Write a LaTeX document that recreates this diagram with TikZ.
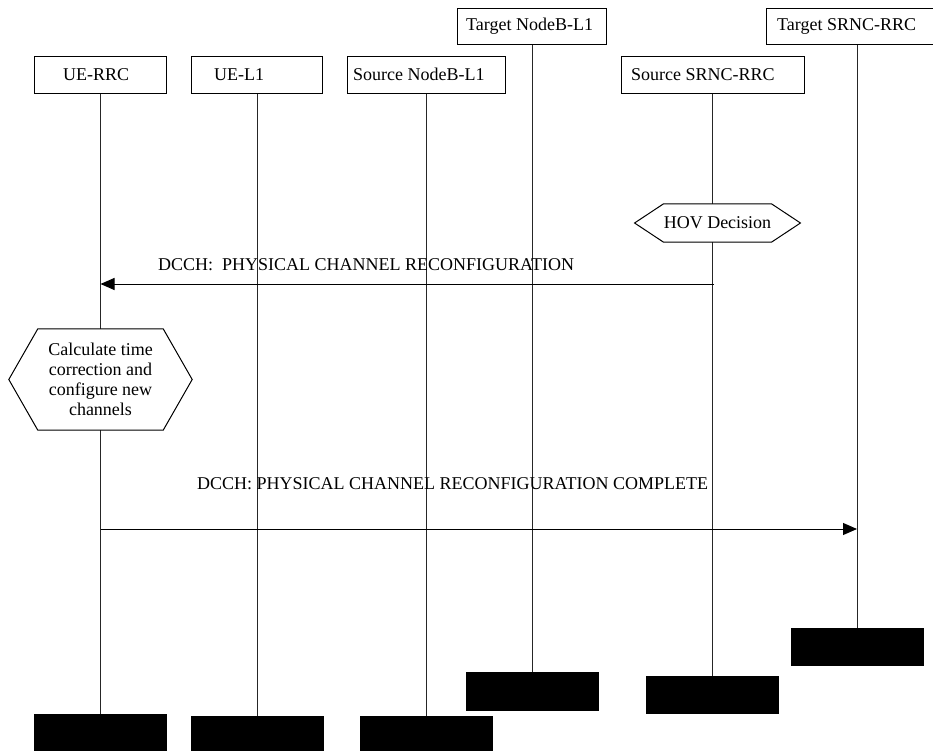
\documentclass[tikz,border=0pt]{standalone}
\usepackage{fontspec}
\setmainfont{Liberation Serif}
\usetikzlibrary{arrows.meta}
\pgfdeclarelayer{lanes}
\pgfdeclarelayer{outlines}
\pgfsetlayers{lanes,outlines,main}
\begin{document}
\begin{tikzpicture}[x=1pt,y=-1pt,
  font=\fontsize{18}{20}\selectfont,
  head/.style={draw, line width=1pt, minimum height=37pt, inner sep=0pt},
  endbox/.style={fill=black, draw=black, minimum width=132pt, minimum height=37pt, inner sep=0pt},
  lifeline/.style={line width=0.9pt, draw=black!85},
  txt/.style={anchor=base west, inner sep=0pt},
  msg/.style={line width=1pt, -{Triangle[length=14pt,width=12pt]}},
  hexbox/.style={inner sep=0pt, align=center},
  hexline/.style={draw, line width=1pt, fill=white}]
\useasboundingbox (0,0) rectangle (933,751);
\clip (0,0) rectangle (933,751);

% entity header boxes
\node[head, minimum width=132pt] (uerrc) at (100.5,75.5) {};
\node[head, minimum width=131pt] (uel1)  at (257,75.5) {};
\node[head, minimum width=158pt] (snb)   at (426.5,75.5) {};
\node[head, minimum width=149pt, minimum height=36pt] (tnb) at (532,26.5) {};
\node[head, minimum width=183pt] (ssrnc) at (712.5,75.5) {};
\node[head, minimum width=182pt, minimum height=36pt] (tsrnc) at (857,26.5) {};

% header texts
\node[txt] (tuerrc) at (63,81) {UE-RRC};
\node[txt] (tuel1)  at (214,81) {UE-L1};
\node[txt] (tsnb)   at (353,81) {Source NodeB-L1};
\node[txt] (ttnb)   at (466,31) {Target NodeB-L1};
\node[txt] (tssrnc) at (631,81) {Source SRNC-RRC};
\node[txt] (ttsrnc) at (777,31) {Target SRNC-RRC};

% lifeline terminators
\node[endbox, minimum height=38pt] (e1) at (100.5,733) {};
\node[endbox, minimum height=38pt] (e2) at (257,735) {};
\node[endbox, minimum height=38pt] (e3) at (426.5,735) {};
\node[endbox, minimum height=38pt] (e4) at (532,691) {};
\node[endbox] (e5) at (712.5,694.5) {};
\node[endbox] (e6) at (857,646.5) {};

% lifelines
\begin{pgfonlayer}{lanes}
\draw[lifeline] (uerrc.south) -- (e1.north);
\draw[lifeline] (uel1.south) -- (e2.north);
\draw[lifeline] (snb.south) -- (e3.north);
\draw[lifeline] (tnb.south) -- (e4.north);
\draw[lifeline] (ssrnc.south) -- (e5.north);
\draw[lifeline] (tsrnc.south) -- (e6.north);
\end{pgfonlayer}

% actions
\node[hexbox, minimum width=99pt, minimum height=38pt] (hov) at (717.5,223) {HOV Decision};
\node[hexbox, minimum width=125pt, minimum height=101pt] (calc) at (100.5,379.5)
  {Calculate time\\correction and\\configure new\\channels};
\begin{pgfonlayer}{outlines}
\draw[hexline] (hov.north west) -- (hov.north east) -- ([xshift=29pt]hov.east)
  -- (hov.south east) -- (hov.south west) -- ([xshift=-29pt]hov.west) -- cycle;
\draw[hexline] (calc.north west) -- (calc.north east) -- ([xshift=29pt]calc.east)
  -- (calc.south east) -- (calc.south west) -- ([xshift=-29pt]calc.west) -- cycle;
\end{pgfonlayer}

% messages
\coordinate (m1) at (714,284);
\draw[msg] (m1) -- (m1 -| uerrc.south);
\node[txt] (l1) at (158,270) {DCCH:\ \ PHYSICAL CHANNEL RECONFIGURATION};

\coordinate (m2) at (100.5,529);
\draw[msg] (m2) -- (m2 -| tsrnc.south);
\node[txt] (l2) at (197,489) {DCCH: PHYSICAL CHANNEL RECONFIGURATION COMPLETE};
\end{tikzpicture}
\end{document}
